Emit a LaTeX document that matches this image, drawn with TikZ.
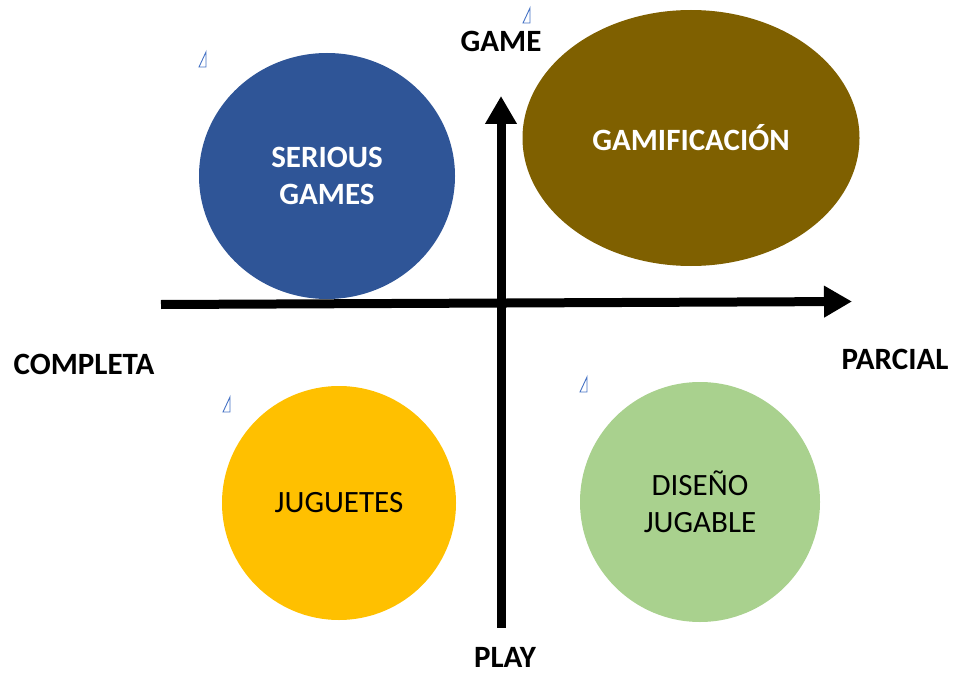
\documentclass[tikz,border=0pt]{standalone}
\usepackage{fontspec}
\setmainfont{Carlito}
\usetikzlibrary{arrows.meta}
\usetikzlibrary{shapes.geometric}
\definecolor{seriousblue}{HTML}{2F5597}
\definecolor{gamibrown}{HTML}{7F6000}
\definecolor{toyyellow}{HTML}{FFC000}
\definecolor{playgreen}{HTML}{A9D18E}
\definecolor{markblue}{HTML}{4472C4}
\tikzset{
	quadrant/.style = {ellipse, inner sep=0pt, align=center, font=\fontsize{31}{37}\selectfont},
	axislabel/.style = {inner sep=0pt, font=\fontsize{31}{37}\selectfont\bfseries},
	axisline/.style = {line width=9pt, -{Triangle[length=28pt,width=30pt]}},
	anchormark/.style = {draw=markblue, line width=0.9pt, line join=miter}
}

\begin{document}
\begin{tikzpicture}[x=1pt, y=-1pt]
		\useasboundingbox (0,0) rectangle (956,674);
		%
		\node (serious)[quadrant, fill=seriousblue, text=white, minimum width=256, minimum height=246] at (327,176) {\bfseries SERIOUS\\\bfseries GAMES};
		\node (gami)[quadrant, fill=gamibrown, text=white, minimum width=337, minimum height=256] at (691,138) {\bfseries GAMIFICACIÓN};
		\node (toys)[quadrant, fill=toyyellow, minimum width=234, minimum height=234] at (339,503) {JUGUETES};
		\node (design)[quadrant, fill=playgreen, minimum width=240, minimum height=240] at (700,502) {DISEÑO\\JUGABLE};
		%
		\coordinate (left) at (161,304.5);
		\coordinate (right) at (852,301.5);
		\coordinate (top) at (501,96);
		\coordinate (bottom) at (501,628);
		\draw [axisline] (left) -- (right);
		\draw [axisline, {Triangle[length=28pt,width=30pt]}-] (top) -- (bottom);
		%
		\node (game)[axislabel] at (501,41) {GAME};
		\node (play)[axislabel, anchor=base] at (505,667) {PLAY};
		\node (completa)[axislabel] at (84,364) {COMPLETA};
		\node (parcial)[axislabel] at (895,359) {PARCIAL};
		%
		\foreach \p in {(199,67),(523,23),(223,412),(580,392)}
			\draw [anchormark] \p -- ++(7,0) -- ++(0,-15) -- cycle;
	\end{tikzpicture}
\end{document}
